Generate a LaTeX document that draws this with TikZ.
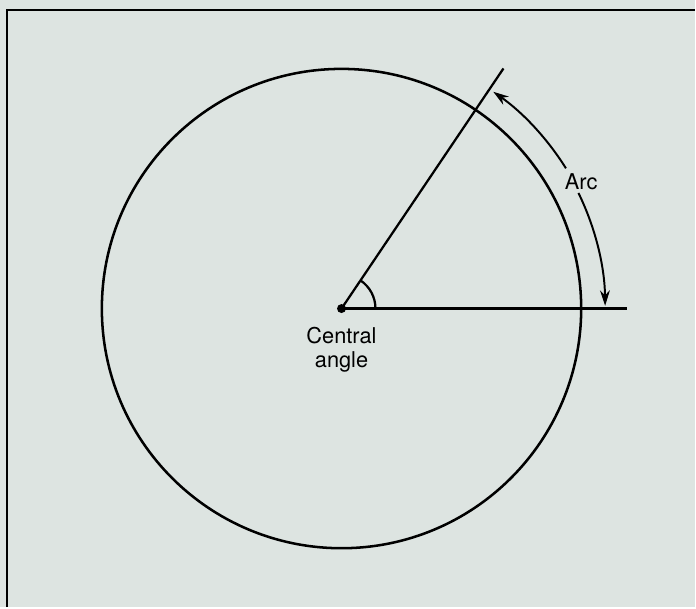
\documentclass[tikz,border=0pt]{standalone}
\usepackage{fontspec}
\setmainfont{TeX Gyre Heros}
\usetikzlibrary{arrows.meta,calc}
\definecolor{paper}{RGB}{221,228,225}
\tikzset{
    arcarrow/.style={line width=1.4pt, -{Stealth[length=11pt,width=7pt]}},
    lbl/.style={font=\fontsize{15.5}{17}\selectfont, align=center}
}
\begin{document}
\begin{tikzpicture}[x=0.025cm, y=0.025cm, line width=1.6pt]
            \fill[paper] (0,0) rectangle (696,608);
            \draw[line width=1.4pt] (7,0) -- (7,598) -- (696,598);
            \coordinate (O) at (342,299);
            \coordinate (A) at ($(O)+(56:290)$);
            \coordinate (B) at (628,299);
            \draw[line width=1.8pt] (O) circle (240);
            \draw (O) -- (A);
            \draw (O) -- (B);
            \fill (O) circle (4.5);
            \draw (O) ++(34,0) arc[start angle=0, end angle=56, radius=34];
            % arc arrow, broken round its label
            \draw[arcarrow] (O) ++(26:264) arc[start angle=26, end angle=0.6, radius=264];
            \draw[arcarrow] (O) ++(32:265) arc[start angle=32, end angle=55, radius=265];
            \node[lbl] (arc) at (582,426) {Arc};
            \node[lbl, anchor=north] (central) at ([yshift=-9pt]O) {Central\\angle};
        \end{tikzpicture}
\end{document}
